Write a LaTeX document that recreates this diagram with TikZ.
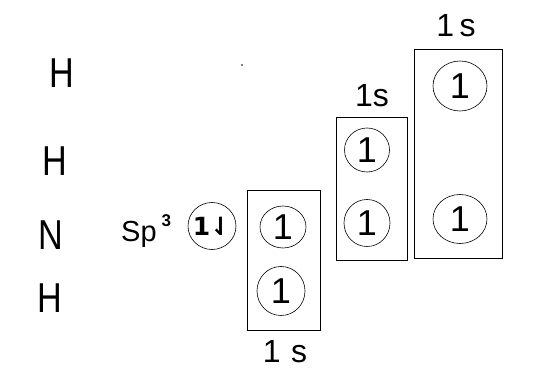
\documentclass[tikz,border=0pt]{standalone}
\usepackage{fontspec}
\setmainfont{Liberation Sans}
\newfontfamily\symfont{DejaVu Sans}
\usetikzlibrary{shapes.geometric}
\begin{document}
\begin{tikzpicture}[x=1pt,y=-1pt,
  box/.style={draw,line width=0.9pt,inner sep=0pt},
  orb/.style={draw,ellipse,line width=0.6pt,inner sep=0pt},
  big/.style={font=\fontsize{38}{38}\selectfont,inner sep=0pt},
  dig/.style={font=\fontsize{36}{36}\selectfont,inner sep=0pt},
  lab/.style={font=\fontsize{32}{32}\selectfont,inner sep=0pt}]
\useasboundingbox (0,0) rectangle (550,382);
% atoms
\node[big,xscale=0.9,yscale=1.1] (h1) at (62,73) {H};
\node[big,xscale=0.9,yscale=1.1] (h2) at (55,161) {H};
\node[big,xscale=0.9,yscale=1.1] (n) at (51,235) {N};
\node[big,xscale=0.9,yscale=1.1] (h3) at (50,298) {H};
% sp3
\node[font=\fontsize{29}{29}\selectfont,inner sep=0pt,anchor=west] (sp) at (121,231) {Sp\,\raisebox{0.5em}{\fontsize{17}{17}\selectfont\bfseries 3}};
\node[orb,minimum width=48pt,minimum height=47pt] (c0) at (212,226) {};
\node[font=\fontsize{25}{25}\selectfont\symfont\bfseries,inner sep=0pt] (t0) at (c0) {1⇃};
% boxes
\node[box,minimum width=73pt,minimum height=140pt] (b1) at (283.5,260) {};
\node[box,minimum width=71pt,minimum height=143pt] (b2) at (371.5,188.5) {};
\node[box,minimum width=88pt,minimum height=209pt] (b3) at (458,153.5) {};
% orbitals
\node[orb,minimum width=46pt,minimum height=42pt] (c1) at (283,227) {};
\node[dig] at (c1) {1};
\node[orb,minimum width=48pt,minimum height=49pt] (c2) at (281,291) {};
\node[dig] at (c2) {1};
\node[orb,minimum width=45pt,minimum height=44pt] (c3) at (367,150) {};
\node[dig] at (c3) {1};
\node[orb,minimum width=46pt,minimum height=47pt] (c4) at (367,223) {};
\node[dig] at (c4) {1};
\node[orb,minimum width=54pt,minimum height=50pt] (c5) at (460,86) {};
\node[dig] at (c5) {1};
\node[orb,minimum width=54pt,minimum height=49pt] (c6) at (460,219) {};
\node[dig] at (c6) {1};
% labels
\node[lab] (l1) at (285,352) {1\,\,s};
\node[lab] (l2) at (372,96) {1s};
\node[lab] (l3) at (456,26) {1\,s};
% stray dot
\fill (242,65) circle (0.8pt);
\end{tikzpicture}
\end{document}
